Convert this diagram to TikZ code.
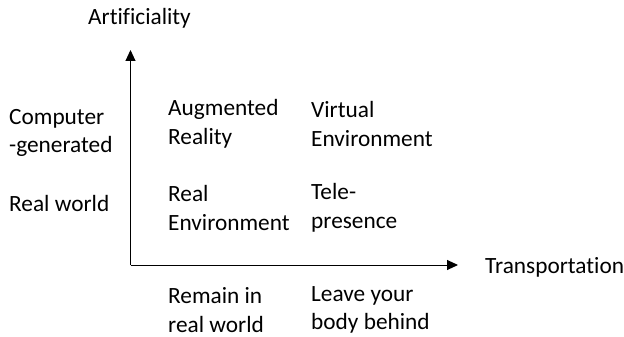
\documentclass[tikz,border=0pt]{standalone}
\usepackage{fontspec}
\setmainfont{Carlito}[Ligatures=CommonOff]
\usetikzlibrary{arrows.meta}
\begin{document}
\begin{tikzpicture}[x=1pt,y=-1pt,
  lbl/.style={anchor=west,align=left,inner sep=0pt,font=\fontsize{23.3}{28.5}\selectfont},
  axis/.style={draw=black,line width=1pt,-{Triangle[length=11pt,width=10pt]}}]
  \useasboundingbox (0,0) rectangle (624,337);
  % axes
  \coordinate (o) at (130.5,265);
  \coordinate (ytip) at (130.5,50);
  \coordinate (xtip) at (458,265);
  \draw[axis] (o) -- (ytip);
  \draw[axis] (o) -- (xtip);
  % axis titles
  \node[lbl] (art) at (88,18) {Artificiality};
  \node[lbl] (trans) at (485,267) {Transportation};
  % row labels
  \node[lbl] (comp) at (9,133) {Computer\\-generated};
  \node[lbl] (realw) at (9,203) {Real world};
  % quadrant labels
  \node[lbl] (ar) at (168,124) {Augmented\\Reality};
  \node[lbl] (ve) at (311,124) {Virtual\\Environment};
  \node[lbl] (re) at (168,208) {Real\\Environment};
  \node[lbl] (tp) at (311,208) {Tele-\\presence};
  % column labels
  \node[lbl] (rem) at (168,310) {Remain in\\real world};
  \node[lbl] (lea) at (311,310) {Leave your\\body behind};
\end{tikzpicture}
\end{document}
